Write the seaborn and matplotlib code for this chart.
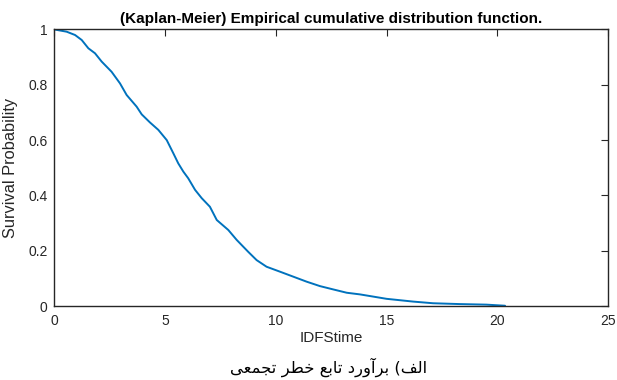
import matplotlib
matplotlib.use("Agg")
import matplotlib.pyplot as plt
import seaborn as sns
import pandas as pd

# ---- data ----
time = [0, 0.55, 0.93, 1.23, 1.53, 1.83, 2.13, 2.58, 2.96, 3.26, 3.71, 3.94,
        4.31, 4.69, 5.07, 5.37, 5.59, 5.82, 6.04, 6.35, 6.65, 7.02, 7.33,
        7.85, 8.23, 8.75, 9.13, 9.58, 10.19, 10.79, 11.39, 11.99, 12.59,
        13.2, 13.8, 14.4, 15.0, 15.6, 16.2, 17.1, 18.3, 19.5, 20.35]
survival = [1.0, 0.992, 0.980, 0.962, 0.932, 0.914, 0.884, 0.847, 0.805,
            0.763, 0.721, 0.693, 0.664, 0.637, 0.600, 0.552, 0.516, 0.486,
            0.462, 0.420, 0.390, 0.359, 0.311, 0.275, 0.239, 0.196, 0.166,
            0.142, 0.124, 0.106, 0.088, 0.072, 0.060, 0.048, 0.042, 0.034,
            0.026, 0.021, 0.016, 0.010, 0.007, 0.005, 0.001]
x_ticks = [0, 5, 10, 15, 20, 25]
y_ticks = [0, 0.2, 0.4, 0.6, 0.8, 1]
y_tick_labels = ["0", "0.2", "0.4", "0.6", "0.8", "1"]

title = "(Kaplan-Meier) Empirical cumulative distribution function."
xlabel = "IDFStime"
ylabel = "Survival Probability"

# Persian caption "الف) برآورد تابع خطر تجمعی" shaped manually (presentation forms)
caption_logical = ("\uFE8D\uFEDF\uFED2" + ")" + " "
                   + "\uFE91\uFEAE\uFE81\uFEED\uFEAD\uFEA9" + " "
                   + "\uFE97\uFE8E\uFE91\uFECA" + " "
                   + "\uFEA7\uFEC4\uFEAE" + " "
                   + "\uFE97\uFEA0\uFEE4\uFECC\uFEF0")
caption = "".join(reversed(caption_logical)).translate(str.maketrans({")": "("}))

df = pd.DataFrame({"time": time, "survival": survival})

sns.set_style("white")
plt.rcParams["font.family"] = ["Liberation Sans", "DejaVu Sans"]

fig = plt.figure(figsize=(6.17, 3.80), dpi=100)
ax = fig.add_axes([0.0883, 0.1947, 0.8971, 0.7277])

sns.lineplot(data=df, x="time", y="survival", sort=False, estimator=None,
             color="#0072BD", linewidth=1.4, ax=ax)

ax.set_xlim(0, 25)
ax.set_ylim(0, 1)
ax.set_xticks(x_ticks)
ax.set_xticklabels([str(t) for t in x_ticks])
ax.set_yticks(y_ticks)
ax.set_yticklabels(y_tick_labels)

dark = "#262626"
for s in ax.spines.values():
    s.set_visible(True)
    s.set_color(dark)
    s.set_linewidth(1.0)
ax.tick_params(direction="in", length=5, width=0.8, colors=dark,
               labelsize=10, top=True, right=True, pad=5)
ax.tick_params(axis="x", pad=6)
ax.grid(False)

ax.set_xlabel(xlabel, fontsize=11, color=dark, labelpad=2)
ax.set_ylabel(ylabel, fontsize=11.8, color=dark, labelpad=7)
ax.set_title(title, fontsize=11, fontweight="bold", color="black", pad=5)

fig.text(0.532, 0.034, caption, family=["DejaVu Sans"], fontsize=11.8,
         ha="center", va="center", color="black")

fig.savefig("out.png", dpi=100)
